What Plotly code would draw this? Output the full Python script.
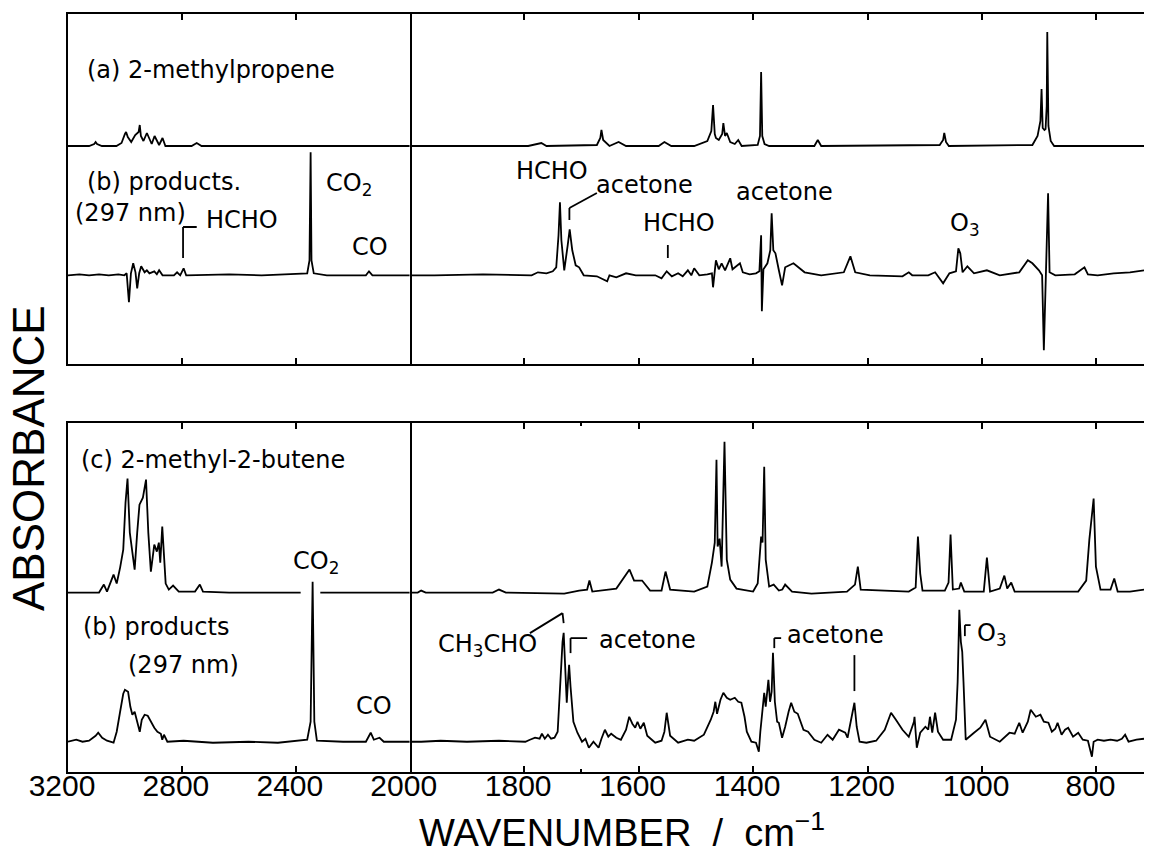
import plotly.graph_objects as go

# ---------------- data: absorbance (arbitrary units) above each trace's own baseline ----------------
# (a) 2-methylpropene  -- top panel
A_LEFT_WN = [3200, 3126, 3108, 3103, 3098, 3081, 3030, 3012, 3000, 2996,
             2990, 2978, 2964, 2952, 2948, 2944, 2935, 2923, 2906, 2896,
             2880, 2868, 2858, 2766, 2748, 2731, 2000]
A_LEFT_ABS = [0, 0, 2, 4, 2, 0, 0, 3, 12, 14,
              9, 4, 11, 14, 21, 10, 5, 13, 2, 10,
              1, 8, 0, 0, 3, 0, 0]
A_RIGHT_WN = [2000, 1793, 1770, 1761, 1673, 1667, 1665, 1662, 1651, 1635,
              1622, 1565, 1555, 1543, 1503, 1480, 1473, 1470, 1467, 1465,
              1460, 1454, 1452, 1449, 1446, 1440, 1432, 1426, 1420, 1392,
              1388, 1386, 1384, 1380, 1372, 1293, 1287, 1281, 1074, 1068,
              1066, 1063, 1058, 912, 903, 898, 896, 894, 891, 889,
              887, 886, 884, 880, 874, 717]
A_RIGHT_ABS = [0, 0, 3, 0, 1, 8, 16, 6, 0, 4,
               0, 0, 4, 0, 0, 5, 15, 41, 12, 8,
               6, 12, 23, 10, 13, 4, 2, 6, 0, 1,
               10, 74, 10, 2, 0, 0, 6, 0, 1, 6,
               13, 4, 0, 1, 10, 25, 57, 18, 16, 17,
               40, 114, 20, 5, 0, 0]

# (b) products from 2-methylpropene -- top panel
B1_LEFT_WN = [3200, 3160, 3126, 3091, 3057, 3023, 3002, 2994, 2986, 2979,
              2971, 2963, 2957, 2950, 2943, 2931, 2923, 2914, 2897, 2888,
              2880, 2868, 2828, 2817, 2806, 2794, 2785, 2634, 2520, 2406,
              2360, 2352, 2348, 2345, 2337, 2291, 2154, 2143, 2131, 2000]
B1_LEFT_ABS = [0, 1, 0, 1, 0, 1, 0, 2, -27, 2,
               12, 3, -13, 2, 9, 3, 5, 2, 4, 1,
               5, 0, 0, 3, 0, 7, 0, 1, 0, 1,
               2, 15, 123, 15, 2, 0, 0, 4, 0, 0]
B1_RIGHT_WN = [2000, 1957, 1872, 1787, 1776, 1761, 1750, 1744, 1740, 1737.5,
               1735, 1730, 1724, 1720.5, 1716, 1710, 1704, 1696, 1673, 1655,
               1651, 1639, 1622, 1605, 1571, 1560, 1551, 1542, 1531, 1523,
               1514, 1508, 1503, 1494, 1480, 1472, 1470, 1467.5, 1465, 1460,
               1455, 1449, 1444, 1440, 1436, 1432, 1423, 1418, 1406, 1395,
               1389, 1386, 1384.7, 1382, 1375, 1370, 1367.6, 1364.7, 1361, 1355,
               1349.4, 1344, 1329.5, 1310, 1281, 1241.5, 1230, 1221.6, 1196, 1139,
               1128, 1122, 1094, 1082, 1068, 1057, 1045.5, 1041.4, 1038, 1034,
               1025.6, 1014, 991.5, 969, 935, 920, 912, 900.6, 895, 892,
               889, 884.6, 882, 872, 838, 821, 815, 798, 770, 741.5,
               717]
B1_RIGHT_ABS = [0, 0, 1, 0, 3, 2, 4, 8, 40, 73,
                35, 5, 30, 46, 25, 10, 8, 0, -1, -6,
                0, -2, 2, 0, 0, -3, 4, -1, 2, -1,
                5, 0, 7, 0, 1, 2, -12, 4, 15, 6,
                12, 5, 11, 17, 6, 8, 12, 3, 1, 2,
                4, 40, -36, 6, 12, 25, 62, 25, 22, 5,
                -10, 8, 12, 3, 0, 3, 19, 3, 0, -1,
                3, 0, 0, 3, -8, 2, 4, 27, 22, 3,
                9, 2, 5, 0, 3, 15, 12, 5, 0, -75,
                0, 82, 3, 0, 1, 8, 1, 0, 2, 3,
                5]

# (c) 2-methyl-2-butene -- bottom panel (None = break in the recorded trace)
C_LEFT_WN = [3200, 3125, 3091, 3074, 3063, 3040, 3029, 3017, 3006, 2998,
             2991, 2983, 2966, 2957, 2949, 2937, 2926, 2918, 2909, 2897,
             2888, 2881, 2876, 2869, 2863, 2857, 2846, 2831, 2811, 2754,
             2737, 2726, 2634, 2383, None, 2314, 2000]
C_LEFT_ABS = [0, 0, 0, 8, 1, 18, 9, 25, 43, 90,
              114, 60, 23, 60, 88, 95, 113, 60, 21, 48,
              41, 50, 30, 66, 30, 9, 3, 7, 1, 1,
              8, 1, 0, 0, None, 0, 0]
C_RIGHT_WN = [2000, 1986, 1980, 1972, 1855, 1844, 1832, 1730, 1704, 1690,
              1686, 1681, 1639, 1625, 1616, 1608, 1594, 1580, 1560, 1553,
              1545, 1503, 1480, 1472, 1467, 1464, 1462, 1458.5, 1455, 1450,
              1446, 1440, 1429, 1400, 1392, 1386, 1383.5, 1380.6, 1378, 1372,
              1364, 1355, 1349, 1344, 1332, 1298, 1236, 1222, 1217, 1212,
              1128, 1116, 1114, 1112, 1108, 1104, 1065, 1058.5, 1055, 1051,
              1040, 1037, 1031, 997, 991.5, 986, 969, 961, 956, 949,
              943, 832, 818, 812.5, 805, 801, 793, 775.5, 769, 763,
              741.5, 717]
C_RIGHT_ABS = [0, 0, 2, 0, 0, 3, 0, -1, 2, 3,
               12, 1, 4, 15, 23, 12, 12, 2, 2, 21,
               3, 1, 6, 30, 50, 133, 46, 54, 26, 151,
               33, 13, 4, 1, 9, 56, 50, 126, 33, 6,
               8, 2, 3, 8, 1, -1, 1, 8, 26, 3,
               1, 5, 30, 56, 19, 2, 2, 10, 58, 3,
               4, 10, 1, 1, 35, 1, 4, 17, 4, 10,
               1, 1, 12, 53, 94, 26, 3, 3, 14, 1,
               1, 3]

# (b) products from 2-methyl-2-butene -- bottom panel
B2_LEFT_WN = [3200, 3171, 3149, 3126, 3103, 3094, 3080, 3063, 3040, 3029,
              3017, 3006, 3000, 2989, 2981, 2974, 2966, 2957, 2948, 2941,
              2931, 2920, 2909, 2897, 2886, 2874, 2869, 2863, 2851, 2794,
              2691, 2566, 2463, 2360, 2348, 2341, 2335, 2326, 2234, 2154,
              2137, 2126, 2106, 2091, 2000]
B2_LEFT_ABS = [0, 2, 0, 1, 6, 9, 4, 1, -1, 10,
               30, 48, 52, 50, 35, 27, 30, 20, 10, 22,
               27, 26, 20, 14, 10, 8, 2, 7, 0, 1,
               -1, 0, -1, 2, 20, 160, 20, 1, 0, 0,
               9, 2, 4, 0, 0]
B2_RIGHT_WN = [2000, 1980, 1946, 1900, 1844, 1798, 1790, 1781, 1773, 1769,
               1764, 1758.5, 1753, 1747, 1741.5, 1737, 1733, 1731, 1729, 1725.6,
               1723, 1721.5, 1719, 1714, 1707, 1699, 1693, 1687, 1679, 1670,
               1665, 1659, 1653, 1648, 1639, 1631, 1622, 1616.5, 1611, 1606,
               1602, 1597, 1591, 1585, 1577, 1571, 1560, 1555, 1551, 1545,
               1531, 1514, 1503, 1486, 1474, 1469, 1466, 1463, 1457, 1452,
               1446, 1440, 1432, 1426, 1420.5, 1415, 1411, 1403, 1395, 1390,
               1387.4, 1383.5, 1380.6, 1378, 1373.3, 1370.4, 1367.6, 1365.3, 1362, 1358,
               1355, 1349.4, 1344, 1338, 1333.5, 1328, 1322, 1312, 1304, 1293,
               1281, 1270, 1261, 1250, 1239, 1235, 1230, 1223, 1219, 1214,
               1202, 1185, 1170, 1159, 1150.5, 1139, 1128, 1119, 1118, 1114,
               1108, 1099, 1094, 1091, 1087, 1082, 1077, 1068, 1054, 1045.5,
               1042.6, 1039.7, 1037, 1034.6, 1032.4, 1028.5, 1014, 1003, 994, 986,
               969, 952, 943, 935, 929, 920, 915, 906, 898, 892,
               884, 878, 872, 868, 861, 855, 849.5, 841, 832, 824,
               815, 811, 808, 805, 798, 787, 775.5, 764, 755.7, 750,
               744, 730, 717]
B2_RIGHT_ABS = [0, 0, 1, 0, 1, 0, 2, 4, 3, 8,
                3, 7, 3, 4, 10, 60, 100, 109, 80, 39,
                65, 77, 55, 20, 9, 0, 3, -6, 0, -6,
                3, 12, 5, 8, 4, 2, 12, 25, 18, 14,
                20, 13, 19, 6, 2, -1, 1, 10, 29, 6,
                -1, 2, 1, 7, 22, 30, 40, 28, 42, 49,
                44, 42, 44, 40, 39, 25, 10, 0, -1, -10,
                10, 30, 49, 35, 62, 40, 50, 89, 40, 20,
                19, 4, 15, 30, 39, 30, 28, 12, 10, 2,
                -1, 7, 2, 12, 9, 4, 20, 39, 15, 0,
                -1, 1, 12, 29, 22, 12, 5, 20, 25, -6,
                9, 15, 12, 25, 9, 29, 10, 2, 2, 22,
                60, 132, 100, 90, 60, 2, 9, 14, 22, 5,
                0, 9, 8, 19, 9, 20, 32, 25, 27, 20,
                19, 10, 13, 19, 7, 12, 14, 5, 9, 2,
                1, -8, -15, 0, 2, 1, 2, 1, 3, 7,
                0, 2, 3]

# vertical stacking offsets of each spectrum inside its panel
OFFSET_A = 218.0
OFFSET_B1 = 88.7
OFFSET_C = 179.6
OFFSET_B2 = 30.3

LEFT_TICKS = [3200, 2800, 2400, 2000]
RIGHT_TICKS = [1800, 1600, 1400, 1200, 1000, 800]
RIGHT_MINOR = [1700]
LEFT_RANGE = [3200, 2000]
RIGHT_RANGE = [2000, 717]

# ---------------- geometry ----------------
W, H = 1171, 863
ML, MR, MT, MB = 68, 0, 14, 91
PW, PH = W - ML - MR, H - MT - MB
XL = (418.3 - ML) / PW
Y_TOP_LO = (H - MB - 364) / PH
Y_BOT_HI = (H - MB - 423) / PH
LW = 1.8

fig = go.Figure()


def add(wn, vals, off, xa, ya):
    fig.add_trace(go.Scatter(
        x=wn, y=[None if v is None else v + off for v in vals],
        mode="lines", line=dict(color="black", width=LW),
        xaxis=xa, yaxis=ya, showlegend=False, hoverinfo="skip",
        connectgaps=False))


add(A_LEFT_WN, A_LEFT_ABS, OFFSET_A, "x3", "y3")
add(A_RIGHT_WN, A_RIGHT_ABS, OFFSET_A, "x4", "y4")
add(B1_LEFT_WN, B1_LEFT_ABS, OFFSET_B1, "x3", "y3")
add(B1_RIGHT_WN, B1_RIGHT_ABS, OFFSET_B1, "x4", "y4")
add(C_LEFT_WN, C_LEFT_ABS, OFFSET_C, "x", "y")
add(C_RIGHT_WN, C_RIGHT_ABS, OFFSET_C, "x2", "y2")
add(B2_LEFT_WN, B2_LEFT_ABS, OFFSET_B2, "x", "y")
add(B2_RIGHT_WN, B2_RIGHT_ABS, OFFSET_B2, "x2", "y2")

common_x = dict(showgrid=False, zeroline=False, showline=True, linecolor="black",
                linewidth=LW, ticks="inside", ticklen=6, tickwidth=LW,
                tickcolor="black", mirror="allticks", tickmode="array")
tickfont = dict(family="Liberation Sans, Arial, sans-serif", size=30, color="black")
common_y = dict(showgrid=False, zeroline=False, showticklabels=False, ticks="")

fig.update_layout(
    width=W, height=H,
    margin=dict(l=ML, r=MR, t=MT, b=MB),
    paper_bgcolor="white", plot_bgcolor="white", showlegend=False,
    xaxis=dict(domain=[0, XL], range=LEFT_RANGE, anchor="y",
               tickvals=LEFT_TICKS, ticktext=[str(v) for v in LEFT_TICKS],
               tickfont=tickfont, ticklabelshift=6, ticklabelstandoff=-14, **common_x),
    xaxis2=dict(domain=[XL, 1], range=RIGHT_RANGE, anchor="y2",
                tickvals=RIGHT_TICKS, ticktext=[str(v) for v in RIGHT_TICKS],
                tickfont=tickfont, ticklabelshift=6, ticklabelstandoff=-14,
                minor=dict(tickmode="array", tickvals=RIGHT_MINOR, ticks="inside",
                           ticklen=3, tickwidth=LW, tickcolor="black"),
                **common_x),
    xaxis3=dict(domain=[0, XL], range=LEFT_RANGE, anchor="y3",
                tickvals=LEFT_TICKS, showticklabels=False, **common_x),
    xaxis4=dict(domain=[XL, 1], range=RIGHT_RANGE, anchor="y4",
                tickvals=RIGHT_TICKS, showticklabels=False, **common_x),
    yaxis=dict(domain=[0, Y_BOT_HI], range=[0, 349.3], anchor="x",
               showline=True, mirror=True, linecolor="black", linewidth=LW, **common_y),
    yaxis2=dict(domain=[0, Y_BOT_HI], range=[0, 349.3], anchor="x2",
                showline=False, **common_y),
    yaxis3=dict(domain=[Y_TOP_LO, 1], range=[0, 350], anchor="x3",
                showline=True, mirror=True, linecolor="black", linewidth=LW, **common_y),
    yaxis4=dict(domain=[Y_TOP_LO, 1], range=[0, 350], anchor="x4",
                showline=False, **common_y),
)

LABEL_FONT = dict(family="DejaVu Sans, sans-serif", size=24, color="black")
anns = []


def lab(text, x, y, xr, yr, anchor="left"):
    anns.append(dict(text=text, x=x, y=y, xref=xr, yref=yr, xanchor=anchor,
                     yanchor="middle", showarrow=False, font=LABEL_FONT))


# top panel labels
lab("(a) 2-methylpropene", 3139, 294, "x3", "y3")
lab("(b) products.", 3139, 182, "x3", "y3")
lab("(297 nm)", 3184, 151, "x3", "y3")
lab("HCHO", 2721, 144, "x3", "y3")
lab("CO<sub>2</sub>", 2215, 180, "x3", "y3", "center")
lab("CO", 2138, 117, "x3", "y3", "center")
lab("HCHO", 1752, 193, "x4", "y4", "center")
lab("acetone", 1678, 179, "x4", "y4")
lab("HCHO", 1530, 141, "x4", "y4", "center")
lab("acetone", 1345, 172, "x4", "y4", "center")
lab("O<sub>3</sub>", 1029, 140, "x4", "y4", "center")
# bottom panel labels
lab("(c) 2-methyl-2-butene", 3160, 312, "x", "y")
lab("CO<sub>2</sub>", 2328, 210, "x", "y", "center")
lab("(b) products", 3153, 145, "x", "y")
lab("(297 nm)", 2793, 107, "x", "y", "center")
lab("CO", 2124, 66, "x", "y", "center")
lab("CH<sub>3</sub>CHO", 1864, 127, "x2", "y2", "center")
lab("acetone", 1673, 132, "x2", "y2")
lab("acetone", 1344, 137, "x2", "y2")
lab("O<sub>3</sub>", 1013, 138, "x2", "y2")

# axis titles
anns.append(dict(text="WAVENUMBER  /  cm<sup>−1</sup>", x=(636 - ML) / PW, y=(H - MB - 830) / PH,
                 xref="paper", yref="paper", xanchor="center", yanchor="middle",
                 showarrow=False,
                 font=dict(family="Liberation Sans, Arial, sans-serif", size=38, color="black")))
anns.append(dict(text="ABSORBANCE", x=(27.5 - ML) / PW, y=(H - MB - 457.5) / PH,
                 xref="paper", yref="paper", xanchor="center", yanchor="middle",
                 textangle=-90, showarrow=False,
                 font=dict(family="Liberation Sans, Arial, sans-serif", size=44, color="black")))
fig.update_layout(annotations=anns)

# label pointer lines
shapes = []


def seg(pts, xr, yr):
    for (x0, y0), (x1, y1) in zip(pts[:-1], pts[1:]):
        shapes.append(dict(type="line", x0=x0, y0=y0, x1=x1, y1=y1, xref=xr, yref=yr,
                           line=dict(color="black", width=LW)))


seg([(2796, 106), (2796, 137), (2748, 137)], "x3", "y3")
seg([(1721, 144), (1721, 156), (1673, 171)], "x4", "y4")
seg([(1549, 106), (1549, 119)], "x4", "y4")
seg([(1790, 139), (1733, 159), (1731, 149)], "x2", "y2")
seg([(1719, 119), (1719, 134), (1690, 134)], "x2", "y2")
seg([(1363, 124), (1363, 134), (1351, 134)], "x2", "y2")
seg([(1223, 81), (1223, 117)], "x2", "y2")
seg([(1030, 136), (1030, 147), (1020, 147)], "x2", "y2")
fig.update_layout(shapes=shapes)

fig.write_html("out.html", config={"displayModeBar": False})
